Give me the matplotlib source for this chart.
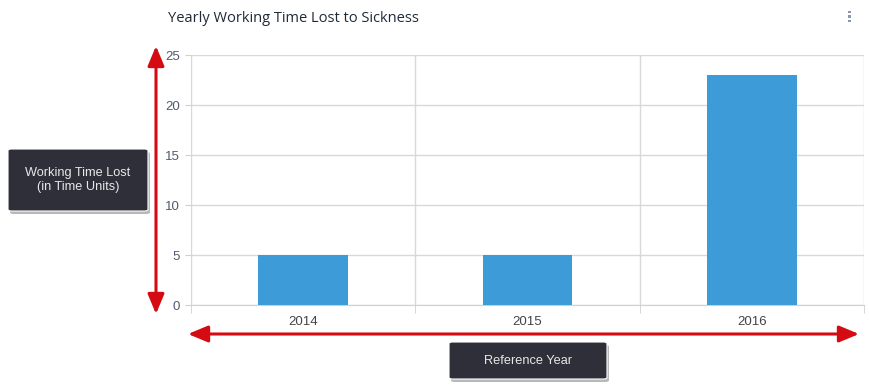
import matplotlib.pyplot as plt
from matplotlib.patches import FancyBboxPatch

years = ['2014', '2015', '2016']
time_lost = [5, 5, 23]
y_ticks = [0, 5, 10, 15, 20, 25]

W, H = 869, 392
fig = plt.figure(figsize=(W / 100, H / 100), dpi=100)
plt.rcParams['font.family'] = ['Liberation Sans', 'DejaVu Sans']

# plot area in pixels: x 191..864, y 55..305
ax = fig.add_axes([191 / W, 1 - 305 / H, 673 / W, 250 / H])
x = range(len(years))
ax.bar(x, time_lost, width=0.4, color='#3d9cd8', zorder=3)

ax.set_xlim(-0.5, len(years) - 0.5)
ax.set_ylim(0, 25)
ax.set_yticks(y_ticks)
ax.set_xticks(list(x))
ax.set_xticklabels(years)
ax.set_xticks([i - 0.5 for i in range(len(years) + 1)], minor=True)

ax.grid(axis='y', color='#d8d8d8', linewidth=1, zorder=0)
ax.grid(axis='x', which='minor', color='#d8d8d8', linewidth=1, zorder=0)
ax.tick_params(axis='x', which='major', length=0, pad=8, labelsize=9.5, labelcolor='#444444')
ax.tick_params(axis='x', which='minor', length=6, color='#d0d0d0')
ax.tick_params(axis='y', length=4, color='#d0d0d0', pad=4, labelsize=9.5, labelcolor='#505a6e')
for s in ['top', 'right', 'left']:
    ax.spines[s].set_visible(False)
ax.spines['bottom'].set_color('#d0d0d0')

fig.text(168 / W, 1 - 18 / H, 'Yearly Working Time Lost to Sickness',
         fontsize=10.5, color='#1f2a38', family=['Open Sans', 'DejaVu Sans'],
         fontweight='medium', va='center', ha='left')

# kebab menu
for yy in [12, 16.5, 21]:
    fig.patches.append(plt.Rectangle((848 / W, 1 - (yy + 1.2) / H), 2.5 / W, 2.5 / H,
                                     transform=fig.transFigure, color='#8a97aa', lw=0))

red = '#d40b12'
arrow = dict(arrowstyle='<|-|>,head_length=1.2,head_width=0.5', color=red, lw=2.2,
             shrinkA=0, shrinkB=0)
fig.add_artist(plt.Annotation('', xy=(156 / W, 1 - 46 / H), xytext=(156 / W, 1 - 314 / H),
                              xycoords='figure fraction', textcoords='figure fraction',
                              arrowprops=arrow))
fig.add_artist(plt.Annotation('', xy=(188 / W, 1 - 334 / H), xytext=(859 / W, 1 - 334 / H),
                              xycoords='figure fraction', textcoords='figure fraction',
                              arrowprops=arrow))


def label_box(x0, y0, x1, y1, text):
    # shadow
    sh = FancyBboxPatch((x0 / W + 2 / W, 1 - (y1 + 3) / H), (x1 - x0) / W, (y1 - y0) / H,
                        boxstyle='round,pad=0,rounding_size=0.004',
                        transform=fig.transFigure, facecolor='#8a8a8a', edgecolor='none', alpha=0.6)
    box = FancyBboxPatch((x0 / W, 1 - y1 / H), (x1 - x0) / W, (y1 - y0) / H,
                         boxstyle='round,pad=0,rounding_size=0.004',
                         transform=fig.transFigure, facecolor='#2f2f39', edgecolor='#ffffff', lw=0.8)
    fig.patches.append(sh)
    fig.patches.append(box)
    fig.text((x0 + x1) / 2 / W, 1 - (y0 + y1) / 2 / H, text, ha='center', va='center',
             color='#e8e8e8', fontsize=9.2, linespacing=1.15)


label_box(8, 149, 148, 211, 'Working Time Lost\n(in Time Units)')
label_box(449, 342, 607, 379, 'Reference Year')

fig.savefig('out.png', dpi=100)
